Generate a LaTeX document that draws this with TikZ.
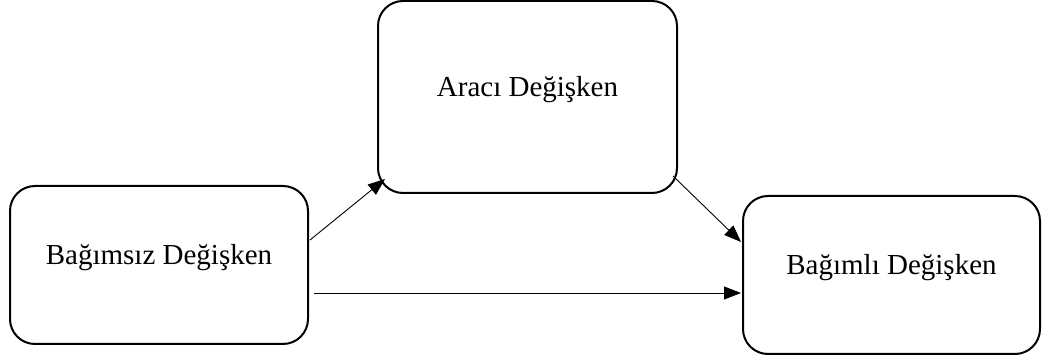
\documentclass[tikz,border=0pt]{standalone}
\usepackage{fontspec}
\setmainfont{Liberation Serif}
\usetikzlibrary{arrows.meta,calc}

\begin{document}
\begin{tikzpicture}[x=1pt,y=1pt,
    box/.style={draw, line width=2pt, rounded corners=25pt, fill=white,
        align=center, font=\fontsize{29}{34}\selectfont,
        text height=12pt, text depth=12pt},
    link/.style={line width=0.9pt, -{Triangle[length=17pt,width=13pt]}}]
    % Keep the page size of the original
    \useasboundingbox (0,0) rectangle (1045,358);

    % Draw boxes
    \node[box, minimum width=298pt, minimum height=158pt] (bagimsiz) at (159,93) {Bağımsız Değişken};
    \node[box, minimum width=299pt, minimum height=192pt] (araci) at (527.5,261) {Aracı Değişken};
    \node[box, minimum width=297pt, minimum height=158pt] (bagimli) at (891.5,83) {Bağımlı Değişken};

    % Arrow end points
    \coordinate (a1) at ($(bagimsiz.east)+(1,25)$);
    \coordinate (b1) at ($(araci.south west)+(8,15)$);
    \coordinate (a2) at ($(araci.south east)+(-5,18)$);
    \coordinate (b2) at ($(bagimli.west)+(-1,33)$);
    \coordinate (a3) at ($(bagimsiz.east)+(5,-28)$);
    \coordinate (b3) at ($(bagimli.west)+(-1,-18)$);

    % Draw arrows
    \draw[link] (a1) -- (b1);
    \draw[link] (a2) -- (b2);
    \draw[link] (a3) -- (b3);
\end{tikzpicture}
\end{document}
